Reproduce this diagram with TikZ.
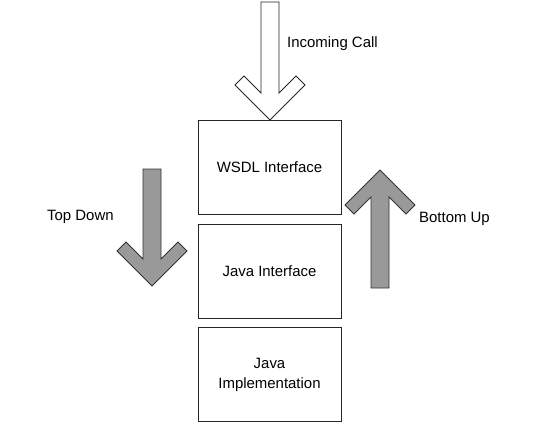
\documentclass[tikz,border=0pt]{standalone}
\usepackage{fontspec}
\setmainfont{Liberation Sans}
\begin{document}
\begin{tikzpicture}[x=1bp,y=-1bp,
  box/.style={draw=black!85,line width=0.9bp,minimum width=143bp,minimum height=94bp,inner sep=0pt,align=center,font=\fontsize{15}{20}\selectfont},
  lbl/.style={inner sep=0pt,anchor=west,font=\fontsize{15}{18}\selectfont},
  hollow/.style={draw=black!85,line width=0.9bp,fill=white,line join=miter},
  solid/.style={draw=black!80,line width=0.9bp,fill=black!40,line join=miter}]
\useasboundingbox (0,0) rectangle (540,424);
\node[box] (wsdl) at (269.5,167) {WSDL Interface};
\node[box] (jif) at (269.5,271) {Java Interface};
\node[box] (jimpl) at (269.5,374.5) {Java\\Implementation};
% incoming call arrow
\draw[hollow] (261,2) -- (261,93) -- (244,76) -- (235,85) -- (270,120) -- (305,85) -- (296,76) -- (279,93) -- (279,2) -- cycle;
% top down arrow
\draw[solid] (143,169) -- (143,259) -- (126,242) -- (117,251) -- (152,286) -- (187,251) -- (178,242) -- (161,259) -- (161,169) -- cycle;
% bottom up arrow
\draw[solid] (371,288) -- (371,197) -- (354,214) -- (345,205) -- (380,170) -- (415,205) -- (406,214) -- (389,197) -- (389,288) -- cycle;
\node[lbl] (inc) at (287,43.5) {Incoming Call};
\node[lbl] (td) at (47,216.5) {Top Down};
\node[lbl] (bu) at (419,218.5) {Bottom Up};
\end{tikzpicture}
\end{document}
